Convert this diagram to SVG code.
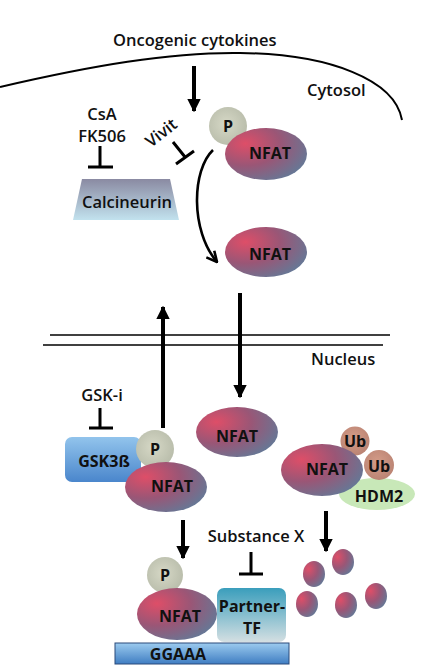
<svg xmlns="http://www.w3.org/2000/svg" width="434" height="669" viewBox="0 0 434 669">
<defs>
<radialGradient id="gNfat" cx="0.25" cy="0.3" r="0.85">
<stop offset="0" stop-color="#de4e68"/>
<stop offset="0.5" stop-color="#9a5676"/>
<stop offset="1" stop-color="#627a98"/>
</radialGradient>
<radialGradient id="gP" cx="0.45" cy="0.45" r="0.6">
<stop offset="0" stop-color="#d6d8c6"/>
<stop offset="1" stop-color="#b8bcaa"/>
</radialGradient>
<radialGradient id="gUb" cx="0.45" cy="0.4" r="0.6">
<stop offset="0" stop-color="#d49c88"/>
<stop offset="1" stop-color="#bb8474"/>
</radialGradient>
<linearGradient id="gCal" x1="0" y1="0" x2="0" y2="1">
<stop offset="0" stop-color="#8a8aa2"/>
<stop offset="1" stop-color="#c2e2ee"/>
</linearGradient>
<linearGradient id="gGsk" x1="0" y1="0" x2="0" y2="1">
<stop offset="0" stop-color="#92c4ec"/>
<stop offset="1" stop-color="#4a86cc"/>
</linearGradient>
<linearGradient id="gTf" x1="0" y1="0" x2="0" y2="1">
<stop offset="0" stop-color="#3a9ebc"/>
<stop offset="1" stop-color="#d4dfe2"/>
</linearGradient>
<linearGradient id="gDna" x1="0" y1="0" x2="0" y2="1">
<stop offset="0" stop-color="#9ccbef"/>
<stop offset="1" stop-color="#3f7dc2"/>
</linearGradient>
<marker id="ah" viewBox="0 0 10 10" refX="9" refY="5" markerWidth="3.4" markerHeight="3.4" orient="auto" markerUnits="strokeWidth">
<path d="M0,0 L10,5 L0,10 z" fill="#000"/>
</marker>
<marker id="ahOpen" viewBox="0 0 10 10" refX="9" refY="5" markerWidth="5" markerHeight="5" orient="auto" markerUnits="strokeWidth">
<path d="M1,1 L9,5 L1,9" fill="none" stroke="#000" stroke-width="2"/>
</marker>
</defs>
<style>
text{font-family:"Open Sans","Liberation Sans",sans-serif;font-weight:600;fill:#111;}
.lbl{font-size:16.5px;}
.sm{font-size:15px;}
.nf{font-size:16px;font-weight:700;text-anchor:middle;}
.mid{text-anchor:middle;}
.nfat{fill:url(#gNfat);}
.p{fill:url(#gP);}
.ub{fill:url(#gUb);}
.arrow{stroke:#000;stroke-width:4;fill:none;marker-end:url(#ah);}
.tbar{stroke:#000;stroke-width:3;fill:none;}
.mem{stroke:#000;stroke-width:2;fill:none;}
</style>
<rect width="434" height="669" fill="#fff"/>

<g id="labels">
<text class="lbl" x="113" y="46">Oncogenic cytokines</text>
<text class="lbl" x="307" y="96">Cytosol</text>
<text class="lbl" x="311" y="365">Nucleus</text>
<text class="lbl mid" x="102" y="120">CsA</text>
<text class="lbl mid" x="102" y="142">FK506</text>
<text class="lbl" transform="translate(151,148) rotate(-38)">Vivit</text>
<text class="lbl mid" x="102" y="401">GSK-i</text>
<text class="lbl mid" x="256" y="542">Substance X</text>
</g>

<g id="membranes">
<path class="mem" d="M0,87 C90,66 170,52 240,53 C330,54 395,80 402,120"/>
<line x1="50" y1="335" x2="390" y2="335" stroke="#000" stroke-width="1.4"/>
<line x1="43" y1="345" x2="383" y2="345" stroke="#000" stroke-width="1.4"/>
</g>

<g id="calcineurin">
<path d="M82,179 L170,179 L179,220 L73,220 Z" fill="url(#gCal)"/>
<text class="nf" x="127" y="208" style="font-weight:600;font-size:16.5px">Calcineurin</text>
</g>

<g id="nfat-p-cyto">
<circle class="p" cx="228" cy="126" r="19"/>
<text class="nf" x="228" y="132">P</text>
<ellipse class="nfat" cx="266" cy="154" rx="41" ry="26"/>
<text class="nf" x="270" y="159">NFAT</text>
</g>

<g id="nfat-cyto">
<ellipse class="nfat" cx="266" cy="252" rx="41" ry="25"/>
<text class="nf" x="270" y="260">NFAT</text>
</g>

<g id="nfat-nuc">
<ellipse class="nfat" cx="237" cy="432" rx="41" ry="25"/>
<text class="nf" x="237" y="442">NFAT</text>
</g>

<g id="gsk3b-complex">
<rect x="65" y="437" width="76" height="45" rx="7" fill="url(#gGsk)"/>
<text class="nf" x="104" y="467">GSK3ß</text>
<circle class="p" cx="155" cy="449" r="19"/>
<text class="nf" x="155" y="455">P</text>
<ellipse class="nfat" cx="166" cy="487" rx="41" ry="25"/>
<text class="nf" x="172" y="492">NFAT</text>
</g>

<g id="ub-complex">
<ellipse cx="377" cy="494" rx="38" ry="16" fill="#c8e8b8"/>
<text class="nf" x="379" y="502">HDM2</text>
<circle class="ub" cx="355" cy="441" r="14.5"/>
<text class="nf" x="355" y="447">Ub</text>
<circle class="ub" cx="379" cy="465" r="15"/>
<text class="nf" x="379" y="472">Ub</text>
<ellipse class="nfat" cx="322" cy="470" rx="41" ry="26"/>
<text class="nf" x="327" y="475">NFAT</text>
</g>

<g id="degraded">
<ellipse class="nfat" cx="314" cy="574" rx="11" ry="13"/>
<ellipse class="nfat" cx="343" cy="562" rx="11" ry="13"/>
<ellipse class="nfat" cx="307" cy="604" rx="11" ry="13"/>
<ellipse class="nfat" cx="346" cy="605" rx="11" ry="13"/>
<ellipse class="nfat" cx="376" cy="596" rx="11" ry="13"/>
</g>

<g id="dna">
<rect x="115" y="643" width="174" height="21" fill="url(#gDna)" stroke="#2a4a7a" stroke-width="1"/>
<text class="nf" x="178" y="660">GGAAA</text>
</g>

<g id="nfat-dna">
<circle class="p" cx="165" cy="575" r="18"/>
<text class="nf" x="165" y="581">P</text>
<ellipse class="nfat" cx="177" cy="614" rx="40" ry="26"/>
<text class="nf" x="180" y="622">NFAT</text>
</g>

<g id="partner-tf">
<rect x="217" y="588" width="69" height="54" rx="7" fill="url(#gTf)"/>
<text class="nf sm" x="252" y="612">Partner-</text>
<text class="nf sm" x="252" y="634">TF</text>
</g>

<g id="connectors">
<line class="arrow" x1="194" y1="66" x2="194" y2="111"/>
<path d="M213,150 C192,170 190,230 217,262" stroke="#000" stroke-width="2.6" fill="none" marker-end="url(#ahOpen)"/>
<line class="arrow" x1="240" y1="293" x2="240" y2="397"/>
<line class="arrow" x1="163" y1="428" x2="163" y2="307"/>
<line class="arrow" x1="183" y1="520" x2="183" y2="558"/>
<line class="arrow" x1="326" y1="511" x2="326" y2="551"/>
<path class="tbar" d="M100,146 V167 M88,167 H113"/>
<path class="tbar" d="M173,142 L185,157 M176,164 L194,151"/>
<path class="tbar" d="M100,408 V428 M89,428 H113"/>
<path class="tbar" d="M251,552 V574 M239,574 H263"/>
</g>
</svg>
